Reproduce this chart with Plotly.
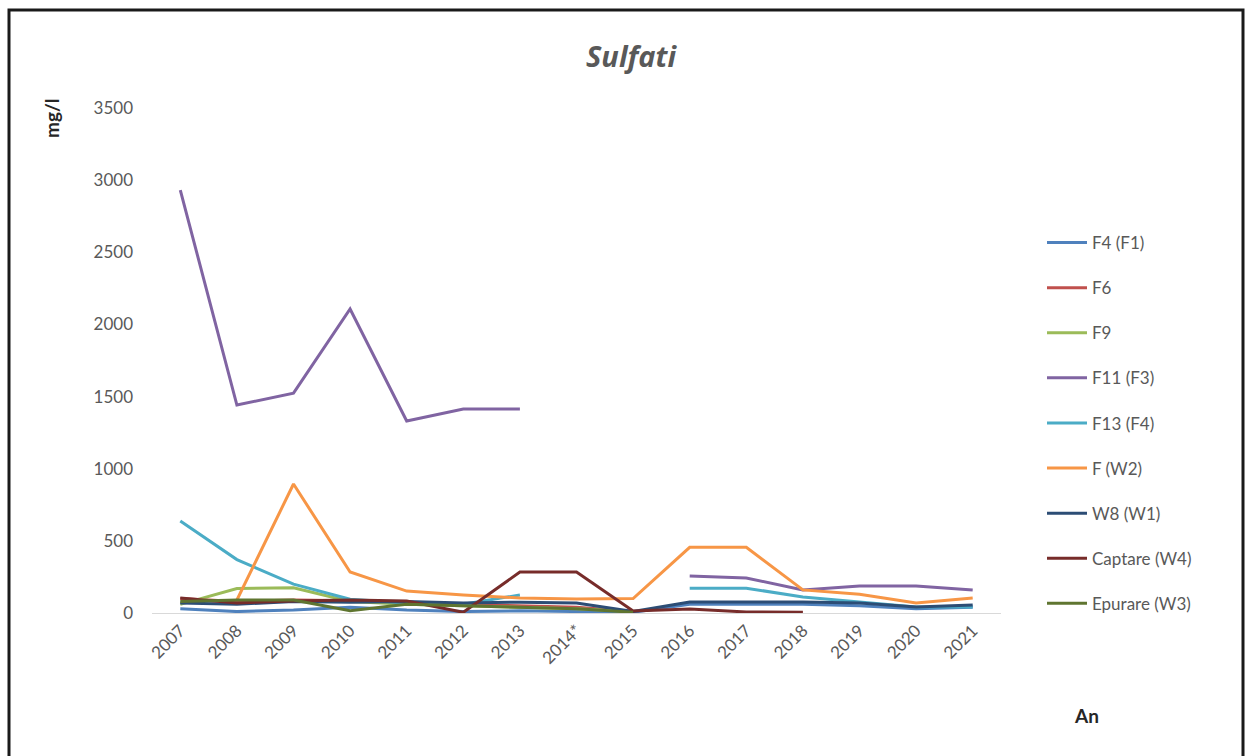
import plotly.graph_objects as go

# Sulphate concentration (mg/l) per monitoring point and year
years = ["2007", "2008", "2009", "2010", "2011", "2012", "2013", "2014*",
         "2015", "2016", "2017", "2018", "2019", "2020", "2021"]

f4_f1 = [30, 10, 20, 40, 20, 10, 15, 10, 5, 60, 60, 60, 50, 30, 40]
f6 = [100, 80, 90, 85, 70, 60, 50, 40, 10, None, None, None, None, None, None]
f9 = [60, 170, 175, 80, 60, 50, 40, 30, 10, None, None, None, None, None, None]
f11_f3 = [2931, 1441, 1524, 2107, 1331, 1414, 1414, None, None, 256, 243, 160, 187, 187, 160]
f13_f4 = [638, 370, 200, 95, 70, 60, 125, None, None, 172, 172, 111, 75, 42, 42]
f_w2 = [None, 90, 894, 284, 152, 125, 104, 97, 100, 455, 455, 160, 130, 70, 104]
w8_w1 = [70, 60, 80, 75, 80, 70, 75, 70, 10, 76, 76, 76, 70, 42, 55]
captare_w4 = [104, 70, 83, 90, 83, 5, 284, 284, 14, 28, 7, 5, None, None, None]
epurare_w3 = [80, 90, 90, 15, 60, 50, 40, 30, 5, None, None, None, None, None, None]

series = [
    ("F4 (F1)", f4_f1, "#4F81BD"),
    ("F6", f6, "#C0504D"),
    ("F9", f9, "#9BBB59"),
    ("F11 (F3)", f11_f3, "#8064A2"),
    ("F13 (F4)", f13_f4, "#4BACC6"),
    ("F (W2)", f_w2, "#F79646"),
    ("W8 (W1)", w8_w1, "#2C4D75"),
    ("Captare (W4)", captare_w4, "#772C2A"),
    ("Epurare (W3)", epurare_w3, "#5F7530"),
]

fig = go.Figure()
for name, vals, color in series:
    fig.add_trace(go.Scatter(
        x=years, y=vals, name=name, mode="lines",
        legendgroup=name,
        line=dict(color=color, width=3),
        connectgaps=False,
    ))

W, H = 1253, 756
L, R, T, B = 152, 252, 108, 143
pw, ph = W - L - R, H - T - B

def px_x(p):
    return (p - L) / pw

def px_y(p):
    return (H - B - p) / ph

fig.update_layout(
    width=W, height=H,
    margin=dict(l=L, r=R, t=T, b=B),
    paper_bgcolor="white", plot_bgcolor="white",
    font=dict(family="Lato, 'Open Sans', sans-serif", color="#595959", size=17),
    showlegend=True,
    legend=dict(
        x=px_x(1042), y=px_y(225), xanchor="left", yanchor="top",
        font=dict(size=17, color="#595959"),
        tracegroupgap=20, itemwidth=40,
        bgcolor="rgba(0,0,0,0)",
    ),
    xaxis=dict(
        type="category", range=[-0.5, 14.5],
        showgrid=False, showline=True, linecolor="#D9D9D9", linewidth=1,
        ticks="", tickangle=-45, tickfont=dict(size=17, color="#595959"),
        zeroline=False,
    ),
    yaxis=dict(
        range=[0, 3500], tickvals=[0, 500, 1000, 1500, 2000, 2500, 3000, 3500],
        showgrid=False, showline=False, zeroline=False, ticks="",
        ticklabelstandoff=18,
        tickfont=dict(size=17, color="#595959"),
    ),
    shapes=[dict(
        type="rect", xref="paper", yref="paper",
        x0=px_x(9), x1=px_x(1243), y0=px_y(780), y1=px_y(10),
        line=dict(color="#1a1a1a", width=3), fillcolor="rgba(0,0,0,0)",
        layer="below",
    )],
    annotations=[
        dict(text="<b><i>Sulfati</i></b>", xref="paper", yref="paper",
             x=px_x(631), y=px_y(56), xanchor="center", yanchor="middle",
             showarrow=False,
             font=dict(family="'Open Sans', Lato, sans-serif", size=29, color="#595959")),
        dict(text="<b>mg/l</b>", xref="paper", yref="paper",
             x=px_x(51), y=px_y(118), xanchor="center", yanchor="middle",
             textangle=-90, showarrow=False,
             font=dict(size=19, color="#262626")),
        dict(text="<b>An</b>", xref="paper", yref="paper",
             x=px_x(1086), y=px_y(715), xanchor="center", yanchor="middle",
             showarrow=False,
             font=dict(size=19, color="#262626")),
    ],
)

fig.write_html("out.html")
